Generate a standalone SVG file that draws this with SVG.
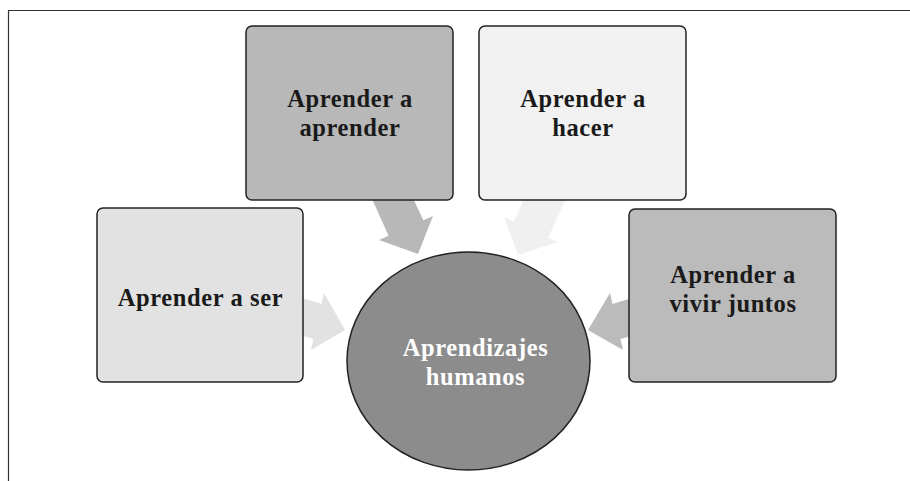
<svg xmlns="http://www.w3.org/2000/svg" width="910" height="481" viewBox="0 0 910 481">
<style>
.box{stroke:#222;stroke-width:1.5}
.t{font-family:"Liberation Serif","Times New Roman",serif;font-weight:bold;font-size:24.5px;letter-spacing:0.6px;text-anchor:middle;fill:#1a1a1a}
.w{fill:#ffffff}
</style>
<rect width="910" height="481" fill="#ffffff"/>
<path d="M8.5 481V10.5H910" fill="none" stroke="#333" stroke-width="1.2"/>
<g id="connectors">
<polygon points="368,190 409,190 423.4,220.3 433,216 418,254 379,240 388.6,235.7" fill="#b8b8b8"/>
<polygon points="528,190 570,190 548.2,237.5 558,242 518,255 504,217 513.8,221.5" fill="#f0f0f0"/>
<polygon points="290,294 290,332 313.5,339 311,350 345,330 324,293 321.5,304" fill="#e2e2e2"/>
<polygon points="645,294 645,332 620.5,339 623,350 588,330 610,293 612.5,304" fill="#bbbbbb"/>
</g>
<g id="n-aprender-aprender">
<rect class="box" x="246" y="26" width="207" height="174" rx="6" fill="#b8b8b8"/>
<text class="t" x="350" y="107">Aprender a</text>
<text class="t" x="350" y="136">aprender</text>
</g>
<g id="n-aprender-hacer">
<rect class="box" x="479" y="26" width="207" height="174" rx="6" fill="#f1f1f1"/>
<text class="t" x="583" y="107">Aprender a</text>
<text class="t" x="583" y="136">hacer</text>
</g>
<g id="n-aprender-ser">
<rect class="box" x="97" y="208" width="206" height="174" rx="6" fill="#e2e2e2"/>
<text class="t" x="200.5" y="306">Aprender a ser</text>
</g>
<g id="n-aprender-vivir">
<rect class="box" x="629" y="209" width="207" height="173" rx="6" fill="#bbbbbb"/>
<text class="t" x="733" y="283">Aprender a</text>
<text class="t" x="733" y="312">vivir juntos</text>
</g>
<g id="n-aprendizajes">
<ellipse class="box" cx="468.5" cy="361" rx="121.5" ry="109" fill="#8c8c8c"/>
<text class="t w" x="475.5" y="356">Aprendizajes</text>
<text class="t w" x="475.5" y="385">humanos</text>
</g>
</svg>
